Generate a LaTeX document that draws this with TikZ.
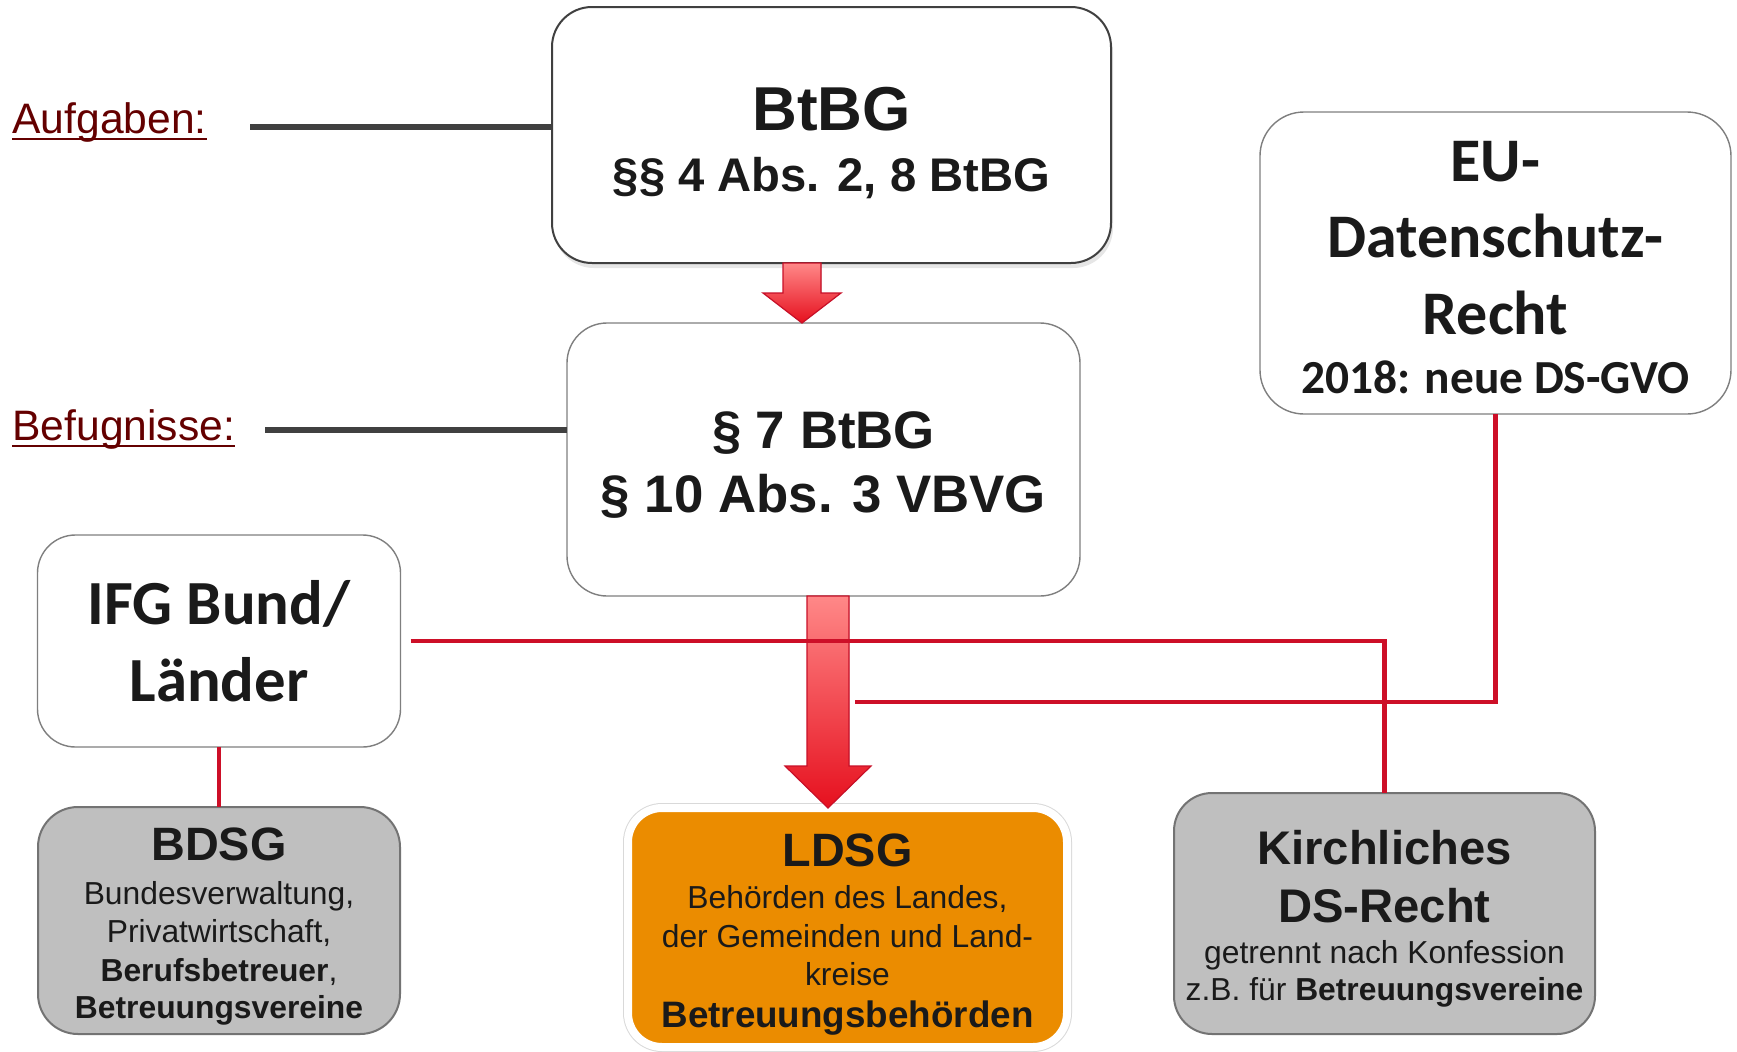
\documentclass[tikz,border=0pt]{standalone}
\usepackage{fontspec}
\setmainfont{Liberation Sans}
\newfontfamily\carl{Carlito}
\usetikzlibrary{calc,shadows}
\definecolor{txt}{RGB}{26,26,26}
\definecolor{maroon}{RGB}{100,0,0}
\definecolor{linered}{RGB}{205,15,40}
\definecolor{arrowtop}{RGB}{255,136,136}
\definecolor{arrowbottom}{RGB}{230,16,30}
\definecolor{arrowborder}{RGB}{200,16,40}
\definecolor{boxorange}{RGB}{235,140,0}
\definecolor{graybox}{RGB}{191,191,191}
\definecolor{bordergray}{RGB}{127,127,127}
\definecolor{darkline}{RGB}{64,64,64}
\newcommand\fs[1]{\fontsize{#1}{#1}\selectfont}
\newcommand\ulin[1]{\setbox0\hbox{#1}\rlap{\color{maroon}\rule[-3.6pt]{\wd0}{1.1pt}}\box0}
\newcommand\blockarrow[5]{%
  \filldraw[bigarrow] ($(#1)+(-#3,0)$) -- ($(#1)+(#3,0)$) -- ($(#2)+(#3,-#5)$) -- ($(#2)+(#4,-#5)$) -- (#2) -- ($(#2)+(-#4,-#5)$) -- ($(#2)+(-#3,-#5)$) -- cycle;}
\begin{document}
\begin{tikzpicture}[x=0.5pt,y=-0.5pt,
  box/.style={rounded corners=20pt, draw=bordergray, line width=0.7pt, fill=white, inner sep=0pt, outer sep=0pt},
  tl/.style={anchor=base, text=txt, inner sep=0pt},
  redline/.style={draw=linered, line width=2.4pt},
  grayline/.style={draw=darkline, line width=3pt},
  bigarrow/.style={draw=arrowborder, line width=0.6pt, top color=arrowtop, bottom color=arrowbottom, line join=miter}]
\useasboundingbox (0,0) rectangle (1737,1051);

% boxes
\node[box, line width=1pt, draw=darkline, drop shadow={opacity=0.2,shadow xshift=1pt,shadow yshift=-2.5pt},
      minimum width=279.5pt, minimum height=128pt] (btbg) at (831.5,135) {};
\node[box, minimum width=256.5pt, minimum height=136.5pt] (par7) at (823.5,459.5) {};
\node[box, rounded corners=22pt, minimum width=235.5pt, minimum height=151pt] (eu) at (1495.5,263) {};
\node[box, rounded corners=19pt, minimum width=181.5pt, minimum height=106pt] (ifg) at (219,641) {};
\node[box, fill=graybox, draw=black!55, line width=1pt, minimum width=181pt, minimum height=113.5pt] (bdsg) at (219,920.5) {};
\node[box, rounded corners=17pt, fill=boxorange, draw=white, line width=4pt,
      preaction={draw=black!15, line width=5pt},
      minimum width=219.5pt, minimum height=119.5pt] (ldsg) at (847.5,927.5) {};
\node[box, rounded corners=19pt, fill=graybox, draw=black!55, line width=1pt, minimum width=210.5pt, minimum height=120.5pt] (kirch) at (1384.5,913.5) {};

% left labels
\node[anchor=base west, inner sep=0pt, text=maroon, font=\fs{21.3}] (aufg) at (12,133) {\ulin{Aufgaben:}};
\node[anchor=base west, inner sep=0pt, text=maroon, font=\fs{21.3}] (befu) at (12,440) {\ulin{Befugnisse:}};
\draw[grayline] ([shift={(43,-6)}]aufg.base east) coordinate (l1) -- (l1 -| btbg.west);
\draw[grayline] ([shift={(30,-10)}]befu.base east) coordinate (l2) -- (l2 -| par7.west);

% block arrows
\coordinate (ax1) at (802,0);
\coordinate (a1s) at (btbg.south -| ax1);
\coordinate (a1e) at (par7.north -| ax1);
\blockarrow{a1s}{a1e}{19}{39}{30}
\coordinate (ax2) at (828,0);
\coordinate (a2s) at (par7.south -| ax2);
\coordinate (a2e) at (ldsg.north -| ax2);
\blockarrow{a2s}{a2e}{21}{43}{42}

% red connectors
\coordinate (eend) at (855,702);
\draw[redline] ([xshift=5pt]ifg.east) -| (kirch.north);
\draw[redline] (eu.south) |- (eend);
\draw[redline] (ifg.south) -- (bdsg.north);

% texts
\node[tl, font=\bfseries\fs{31}] (t-btbg1) at (831.5,130) {BtBG};
\node[tl, font=\bfseries\fs{23.6}] (t-btbg2) at (831.5,191) {§§ 4 Abs. 2, 8 BtBG};

\node[tl, font=\bfseries\fs{26.4}] (t-par1) at (823.5,448) {§ 7 BtBG};
\node[tl, font=\bfseries\fs{26.4}] (t-par2) at (823.5,512) {§ 10 Abs. 3 VBVG};

\node[tl, font=\carl\bfseries\fs{31}] (t-eu1) at (1495.5,181) {EU-};
\node[tl, font=\carl\bfseries\fs{31}] (t-eu2) at (1495.5,257) {Datenschutz-};
\node[tl, font=\carl\bfseries\fs{31}] (t-eu3) at (1495.5,334) {Recht};
\node[tl, font=\carl\bfseries\fs{23.7}] (t-eu4) at (1495.5,393) {2018: neue DS-GVO};

\node[tl, font=\carl\bfseries\fs{31.4}] (t-ifg1) at (219,624) {IFG Bund/};
\node[tl, font=\carl\bfseries\fs{31.4}] (t-ifg2) at (219,701) {Länder};

\node[tl, font=\bfseries\fs{23.4}] (t-bd1) at (219,860) {BDSG};
\node[tl, font=\fs{15.9}] (t-bd2) at (219,904) {Bundesverwaltung,};
\node[tl, font=\fs{15.9}] (t-bd3) at (219,942) {Privatwirtschaft,};
\node[tl, font=\fs{15.9}] (t-bd4) at (219,981) {\textbf{Berufsbetreuer},};
\node[tl, font=\bfseries\fs{15.9}] (t-bd5) at (219,1018) {Betreuungsvereine};

\node[tl, font=\bfseries\fs{23.4}] (t-ld1) at (847.5,866) {LDSG};
\node[tl, font=\fs{15.9}] (t-ld2) at (847.5,908) {Behörden des Landes,};
\node[tl, font=\fs{15.9}] (t-ld3) at (847.5,947) {der Gemeinden und Land-};
\node[tl, font=\fs{15.9}] (t-ld4) at (847.5,985) {kreise};
\node[tl, font=\bfseries\fs{18.4}] (t-ld5) at (847.5,1027) {Betreuungsbehörden};

\node[tl, font=\bfseries\fs{23.6}] (t-ki1) at (1384.5,864) {Kirchliches};
\node[tl, font=\bfseries\fs{23.6}] (t-ki2) at (1384.5,922) {DS-Recht};
\node[tl, font=\fs{15.9}] (t-ki3) at (1384.5,963) {getrennt nach Konfession};
\node[tl, font=\fs{15.9}] (t-ki4) at (1384.5,1000) {z.B. für \textbf{Betreuungsvereine}};
\end{tikzpicture}
\end{document}
